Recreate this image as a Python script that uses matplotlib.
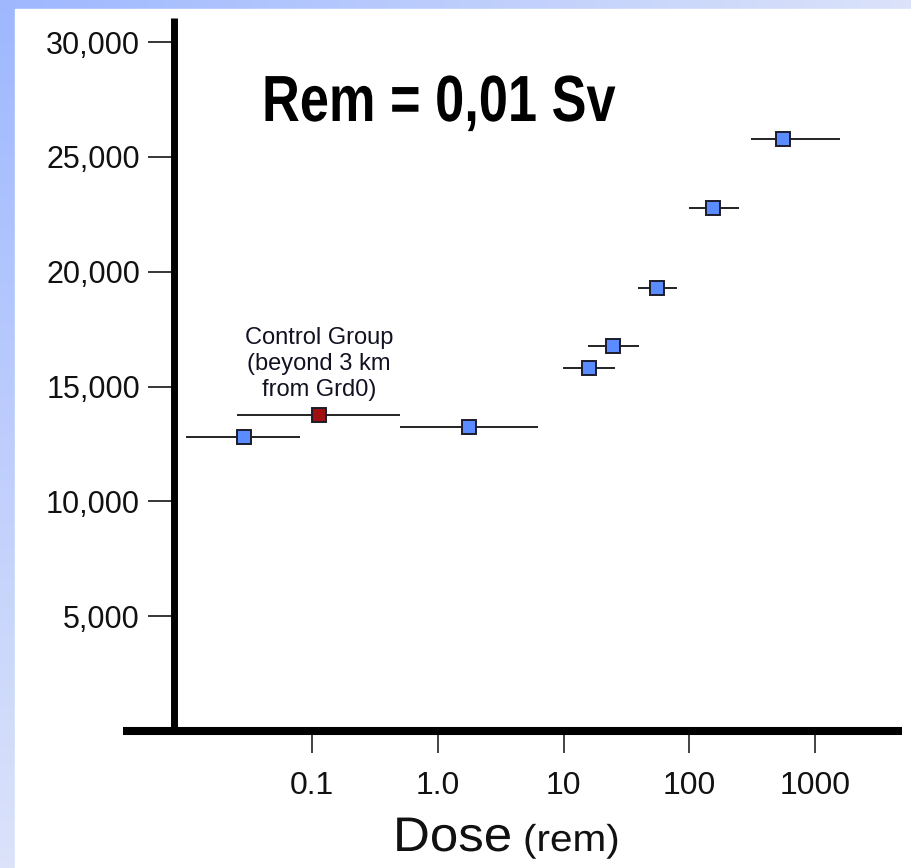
import numpy as np
import matplotlib
matplotlib.use("Agg")
import matplotlib.pyplot as plt
from matplotlib.patches import Rectangle
from matplotlib.ticker import NullLocator
from matplotlib.patheffects import AbstractPathEffect
from matplotlib.transforms import Affine2D

# ---- data ----
dose_center = [0.0286, 1.76, 15.9, 24.6, 55.0, 154.0, 554.0]
dose_low = [0.0099, 0.50, 9.86, 15.6, 38.9, 99.0, 308.0]
dose_high = [0.080, 6.24, 25.6, 39.7, 79.6, 248.0, 1574.0]
count_values = [12800, 13240, 15810, 16770, 19290, 22780, 25780]

control_center = [0.113]
control_low = [0.0252]
control_high = [0.499]
control_value = [13760]
control_label = "Control Group\n(beyond 3 km\nfrom Grd0)"

x_ticks = [0.1, 1, 10, 100, 1000]
x_tick_labels = ["0.1", "1.0", "10", "100", "1000"]
y_ticks = [5000, 10000, 15000, 20000, 25000, 30000]
y_tick_labels = ["5,000", "10,000", "15,000", "20,000", "25,000", "30,000"]
y_tick_colors = ["#111111", "#111111", "#a8a8a8", "#a8a8a8", "#a8a8a8", "#a8a8a8"]

title_text = "Rem = 0,01 Sv"
xlabel_main = "Dose"
xlabel_unit = "(rem)"


class Condense(AbstractPathEffect):
    """Horizontally condense/stretch glyphs around a fixed display x position."""

    def __init__(self, factor, x0):
        super().__init__()
        self.factor = factor
        self.x0 = x0

    def draw_path(self, renderer, gc, tpath, affine, rgbFace=None):
        aff = affine + Affine2D().translate(-self.x0, 0).scale(self.factor, 1).translate(self.x0, 0)
        renderer.draw_path(gc, tpath, aff, rgbFace)


# ---- figure ----
W, H = 912, 868
plt.rcParams["font.family"] = ["Liberation Sans", "DejaVu Sans"]
fig = plt.figure(figsize=(W / 100, H / 100), dpi=100)

# background gradient frame
bg = fig.add_axes([0, 0, 1, 1], zorder=-10)
xf = np.linspace(0, 1, 300)[None, :]
yf = np.linspace(0, 1, 300)[:, None]
s = np.maximum(xf, yf)
c0 = np.array([0.62, 0.72, 1.0])
c1 = np.array([0.86, 0.89, 0.98])
img = c0 + (c1 - c0) * s[..., None]
bg.imshow(img, extent=[0, 1, 0, 1], origin="upper", aspect="auto")
bg.add_patch(Rectangle((15 / W, 0), 1 - 15 / W, 1 - 9 / H, color="white"))
bg.set_xlim(0, 1)
bg.set_ylim(0, 1)
bg.axis("off")

# main axes
ax = fig.add_axes([123 / W, 1 - 731 / H, (902 - 123) / W, (731 - 18) / H])
ax.patch.set_alpha(0)
ax.set_xscale("log")
ax.set_xlim(0.00313, 4900)
ax.set_ylim(0, 31050)

for sp in ["top", "right"]:
    ax.spines[sp].set_visible(False)
ax.spines["bottom"].set_linewidth(5.8)
ax.spines["bottom"].set_capstyle("butt")
ax.spines["left"].set_linewidth(5.0)
ax.spines["left"].set_capstyle("butt")
ax.spines["left"].set_position(("axes", 0.0655))

ax.set_xticks(x_ticks)
ax.set_xticklabels(x_tick_labels)
ax.xaxis.set_minor_locator(NullLocator())
ax.set_yticks(y_ticks)
ax.set_yticklabels(y_tick_labels)
ax.tick_params(axis="x", length=15.8, width=1.1, pad=13, labelsize=23,
               colors="#111111")
ax.tick_params(axis="y", length=18.7, width=1.1, pad=5.8, labelsize=22,
               labelcolor="#111111")
for t, c in zip(ax.yaxis.get_major_ticks(), y_tick_colors):
    t.tick1line.set_color(c)

# data
xc = np.array(dose_center)
ax.errorbar(xc, count_values,
            xerr=[xc - np.array(dose_low), np.array(dose_high) - xc],
            fmt="s", ms=9.4, mfc="#5a8cff", mec="#1c1c2c", mew=1.4,
            ecolor="#111111", elinewidth=1.3, capsize=0, zorder=3)
cc = np.array(control_center)
ax.errorbar(cc, control_value,
            xerr=[cc - np.array(control_low), np.array(control_high) - cc],
            fmt="s", ms=9.4, mfc="#a01010", mec="#1c1c2c", mew=1.4,
            ecolor="#111111", elinewidth=1.3, capsize=0, zorder=3)
ax.annotate(control_label, xy=(control_center[0], control_value[0]),
            xytext=(0, 10), textcoords="offset points", ha="center",
            va="bottom", fontsize=17, linespacing=1.24, color="#111122",
            multialignment="center")

# texts
fig.text(262 / W, 1 - 121 / H, title_text, fontsize=47, fontweight="bold",
         ha="left", va="baseline", color="black",
         path_effects=[Condense(0.802, 262)])
fig.text(393 / W, 1 - 851 / H, xlabel_main, fontsize=35, ha="left",
         va="baseline", color="#111111",
         path_effects=[Condense(1.05, 393)])
fig.text(523 / W, 1 - 851 / H, xlabel_unit, fontsize=27, ha="left",
         va="baseline", color="#111111",
         path_effects=[Condense(1.08, 523)])

fig.savefig("out.png", dpi=100)
